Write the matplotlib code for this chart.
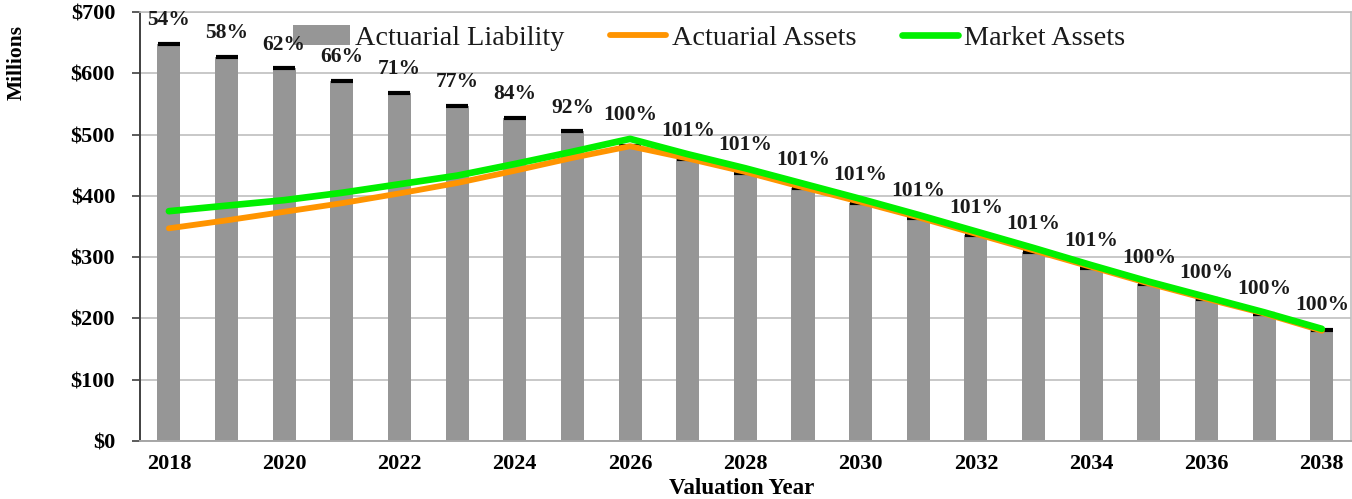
import numpy as np
import matplotlib.pyplot as plt
import matplotlib.ticker as mticker

# Datos (millones)
years = list(range(2018, 2039))
liability = [648, 627, 608, 588, 568, 547, 527, 505, 481, 460, 438, 413, 388,
             364, 336, 309, 282, 256, 231, 207, 181]
actuarial_assets = [347, 360, 374, 388, 404, 421, 441, 462, 481, 461, 439, 414, 390,
                    365, 338, 311, 284, 257, 232, 208, 180]
market_assets = [375, 384, 393, 405, 419, 433, 452, 472, 493, 468, 445, 420, 395,
                 369, 342, 315, 287, 260, 235, 210, 183]
funded_pct = ["54%", "58%", "62%", "66%", "71%", "77%", "84%", "92%", "100%",
              "101%", "101%", "101%", "101%", "101%", "101%", "101%", "101%",
              "100%", "100%", "100%", "100%"]

COLOR_BAR = "#969696"
COLOR_ACT = "#FF9400"
COLOR_MKT = "#00F000"
COLOR_GRID = "#BFBFBF"

plt.rcParams["font.family"] = ["Liberation Serif", "DejaVu Serif"]

fig = plt.figure(figsize=(13.52, 4.99), dpi=100)
ax = fig.add_axes([0.1036, 0.1162, 0.8954, 0.8598])

x = np.arange(len(years))

barras = ax.bar(x, liability, width=0.4, color=COLOR_BAR, zorder=2,
                label="Actuarial Liability")
# tapas negras de las barras
ax.plot(x, liability, ls="none", marker="_", ms=16.5, mew=3, color="black", zorder=3)

l_act, = ax.plot(x, actuarial_assets, color=COLOR_ACT, lw=4.2,
                 solid_capstyle="round", zorder=4, label="Actuarial Assets")
l_mkt, = ax.plot(x, market_assets, color=COLOR_MKT, lw=4.8,
                 solid_capstyle="round", zorder=5, label="Market Assets")

# etiquetas de porcentaje
for i, txt in enumerate(funded_pct):
    top = max(liability[i], actuarial_assets[i], market_assets[i])
    ax.annotate(txt, xy=(x[i], top), xytext=(0, 17), textcoords="offset points",
                ha="center", va="center", fontsize=15.5, fontweight="bold",
                color="#1a1a1a", zorder=6)

ax.set_xlim(-0.5, len(years) - 0.5)
ax.set_ylim(0, 700)
ax.yaxis.set_major_locator(mticker.MultipleLocator(100))
ax.yaxis.set_major_formatter(mticker.FuncFormatter(lambda v, _: f"${v:,.0f}"))
ax.set_xticks(x[::2])
ax.set_xticklabels([str(y) for y in years[::2]])

ax.tick_params(axis="y", length=6, width=1.2, color="#404040", pad=12,
               labelsize=16)
ax.tick_params(axis="x", length=0, pad=9, labelsize=16)
for lab in ax.get_xticklabels() + ax.get_yticklabels():
    lab.set_fontweight("bold")

ax.grid(True, axis="y", color=COLOR_GRID, lw=1.2, zorder=0)
ax.set_axisbelow(True)

ax.spines["left"].set_color("#404040")
ax.spines["left"].set_linewidth(1.4)
ax.spines["bottom"].set_color("#A6A6A6")
ax.spines["bottom"].set_linewidth(1.4)
for s in ("top", "right"):
    ax.spines[s].set_color(COLOR_GRID)
    ax.spines[s].set_linewidth(1.2)

ax.set_ylabel("Millions", fontsize=15.5, fontweight="bold")
ax.yaxis.set_label_coords(-0.094, 0.883)
ax.set_xlabel("Valuation Year", fontsize=16.5, fontweight="bold")
ax.xaxis.set_label_coords(0.497, -0.11)
ax.xaxis.label.set_va("center")

leg = ax.legend(handles=[barras, l_act, l_mkt], ncol=3, loc="center",
                bbox_to_anchor=(0.47, 0.94), frameon=False, fontsize=20.3,
                handlelength=2.0, handletextpad=0.2, columnspacing=1.6,
                borderaxespad=0)
for t in leg.get_texts():
    t.set_color("#1a1a1a")

plt.savefig("out.png", dpi=100)
